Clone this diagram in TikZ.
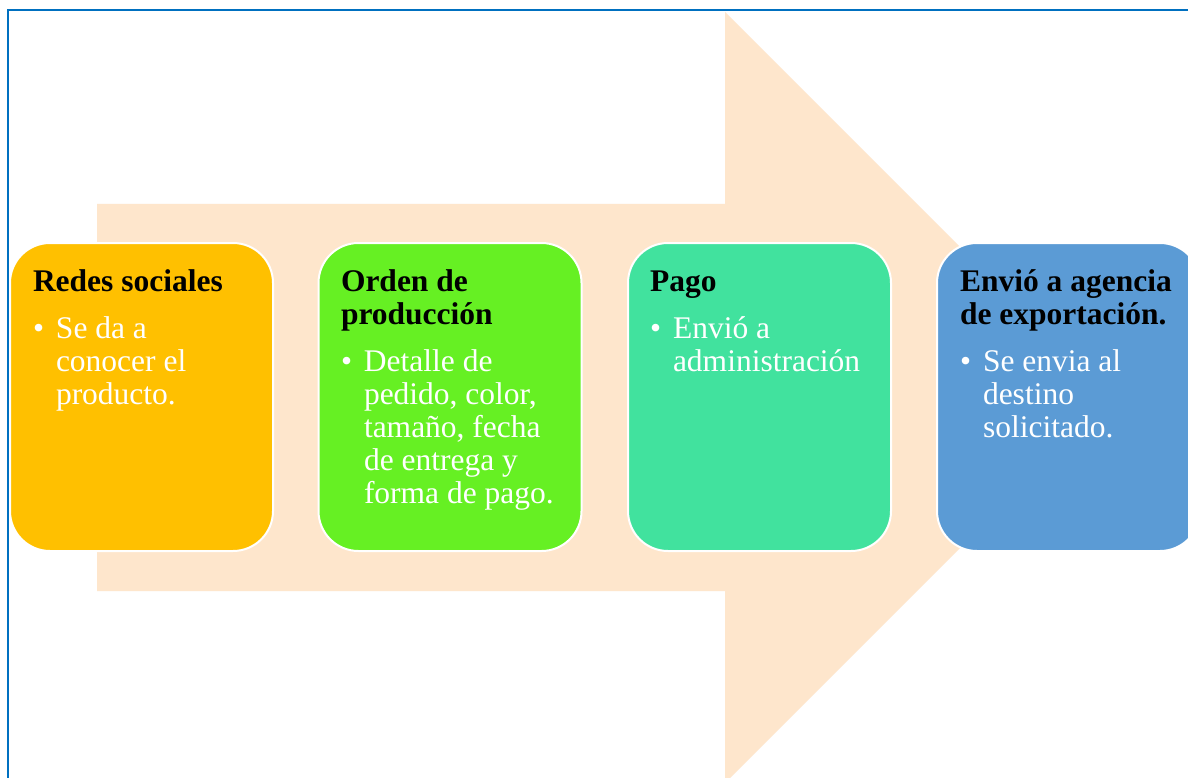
\documentclass[tikz,border=0pt]{standalone}
\usepackage{fontspec}
\setmainfont{Liberation Serif}
\definecolor{peach}{HTML}{FEE6CC}
\definecolor{c1}{HTML}{FFC000}
\definecolor{c2}{HTML}{66F023}
\definecolor{c3}{HTML}{41E29E}
\definecolor{c4}{HTML}{5B9BD5}
\definecolor{frameblue}{HTML}{0070C0}
\tikzset{
  box/.style={draw=white, line width=2pt, rounded corners=40pt, minimum width=263pt, minimum height=308pt, inner sep=0pt},
  txt/.style={anchor=base west, inner sep=0pt, outer sep=0pt},
}
\newcommand{\ttl}[1]{\parbox[t]{250pt}{\raggedright\fontsize{31.5}{33}\selectfont\bfseries #1}}
\newcommand{\bdy}[1]{\parbox[t]{250pt}{\raggedright\fontsize{31.5}{33}\selectfont\hangindent=23pt\hangafter=1\noindent\color{white}\makebox[23pt][l]{\textbullet}#1}}
\begin{document}
\begin{tikzpicture}[x=1pt,y=-1pt]
\useasboundingbox (0,0) rectangle (1188,778);
\clip (0,0) rectangle (1188,778);
\fill[white] (0,0) rectangle (1188,778);
% big arrow
\fill[peach] (97,204) -- (725,204) -- (725,12) -- (1110.5,397.5) -- (725,783) -- (725,591) -- (97,591) -- cycle;
% frame
\draw[frameblue, line width=2pt] (8,780) -- (8,10.5) -- (1190,10.5);
% boxes
\node[box, fill=c1] (b1) at (141.5,397) {};
\node[box, fill=c2] (b2) at (450,397) {};
\node[box, fill=c3] (b3) at (759.5,397) {};
\node[box, fill=c4] (b4) at (1068.5,397) {};
% texts
\node[txt] (t1) at (33,291) {\ttl{Redes sociales}};
\node[txt] (d1) at (33,338) {\bdy{Se da a\newline conocer el\newline producto.}};
\node[txt] (t2) at (341,291) {\ttl{Orden de\\producción}};
\node[txt] (d2) at (341,371) {\bdy{Detalle de\newline pedido, color,\newline tamaño, fecha\newline de entrega y\newline forma de pago.}};
\node[txt] (t3) at (650,291) {\ttl{Pago}};
\node[txt] (d3) at (650,338) {\bdy{Envió a\newline administración}};
\node[txt] (t4) at (960,291) {\ttl{Envió a agencia\\de exportación.}};
\node[txt] (d4) at (960,371) {\bdy{Se envia al\newline destino\newline solicitado.}};
\end{tikzpicture}
\end{document}
